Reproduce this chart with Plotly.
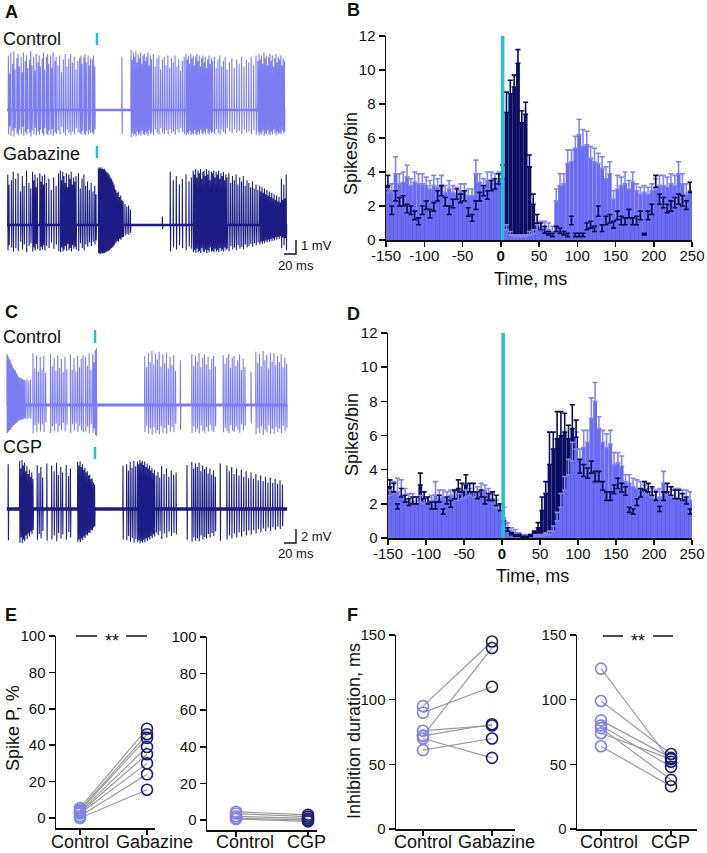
import numpy as np
import plotly.graph_objects as go

W, H = 707, 853
FONT = "Liberation Sans, Arial, sans-serif"

LIGHT = "#7b7df0"
DARK = "#1c1c84"
LIGHT_BAR = "#6b6cf4"
LIGHT_ERR = "#8386ee"
DARK_BAR = "#0c0c62"
DARK_ERR = "#0a0a55"
CYAN = "#27bddd"
GRAY = "#9a9a9a"

# ---------------- electrophysiology traces: (spike time ms, spike height mV) ----------------
CTRL_A_SPIKES = [
    (-147, 3.9), (-145, 2.6), (-143, 4.1), (-140, 3.3), (-138, 4.2), (-136, 2.9), (-133, 3.7), (-131, 4.0), (-129, 3.1), (-126, 3.8),
    (-124, 2.7), (-122, 4.1), (-119, 3.5), (-117, 3.9), (-115, 3.0), (-112, 3.6), (-110, 4.2), (-108, 3.2), (-105, 3.8), (-103, 2.8),
    (-101, 4.0), (-98, 3.4), (-96, 3.9), (-94, 3.1), (-91, 3.7), (-89, 4.1), (-87, 2.9), (-84, 3.8), (-82, 4.0), (-80, 3.3),
    (-77, 3.9), (-75, 3.0), (-73, 4.1), (-70, 3.5), (-68, 3.8), (-65, 3.2), (-62, 3.9), (-59, 2.7), (-56, 3.6), (-53, 4.0),
    (-50, 3.1), (-47, 3.7), (-44, 4.0), (-41, 3.4), (-38, 3.8), (-35, 2.9), (-32, 3.5), (-29, 3.7), (-27, 3.9), (-25, 3.3),
    (-22, 3.8), (-20, 4.0), (-18, 3.4), (-15, 3.9), (-13, 3.2), (-11, 3.7), (-8, 3.6), (-6, 3.9), (-4, 3.1),
    (41, 3.8),
    (56, 4.3), (58, 3.6), (60, 4.1), (62, 3.8), (64, 4.2), (66, 3.4), (68, 4.0), (70, 3.7), (72, 4.1), (74, 3.3),
    (76, 3.9), (78, 4.0), (80, 3.5), (82, 3.8), (84, 4.1), (86, 3.2), (88, 3.9), (90, 3.6), (93, 4.0), (96, 3.1),
    (99, 3.7), (102, 3.9), (105, 2.9), (108, 3.6), (111, 3.8), (114, 3.2), (117, 3.9), (120, 3.0), (123, 3.7), (126, 3.4),
    (129, 3.9), (132, 3.1), (135, 3.6), (138, 2.8), (141, 3.5), (144, 3.8), (147, 4.0), (149, 3.6), (151, 3.9), (153, 3.3),
    (155, 4.0), (157, 3.7), (159, 3.9), (161, 3.2), (163, 3.8), (165, 4.0), (167, 3.5), (169, 3.9), (171, 3.1), (173, 3.7),
    (175, 3.9), (177, 3.4), (179, 3.8), (181, 3.0), (183, 3.6), (185, 3.9), (187, 3.3), (189, 3.7), (191, 3.5), (194, 3.8),
    (197, 3.0), (200, 3.6), (203, 3.9), (206, 3.1), (209, 3.5), (212, 3.8), (215, 2.9), (219, 3.4), (223, 3.7), (227, 3.0),
    (231, 3.6), (235, 3.3), (239, 3.8), (243, 3.1), (247, 3.6), (251, 3.4), (255, 3.8), (259, 3.2), (263, 3.9), (266, 3.5),
    (268, 4.0), (270, 3.6), (272, 3.9), (274, 3.3), (276, 4.1), (278, 3.7), (280, 3.9), (282, 3.2), (284, 3.8), (286, 4.0),
    (288, 3.5), (290, 3.9), (292, 3.1), (294, 3.7), (296, 4.0), (298, 3.4), (300, 3.8), (302, 3.6), (304, 3.9), (306, 3.2),
    (308, 3.7), (310, 3.5),
]
GABA_A_SPIKES = [
    (-148, 3.6), (-146, 2.9), (-142, 3.2), (-139, 3.8), (-135, 3.3), (-131, 3.7), (-127, 2.4), (-124, 3.5), (-121, 2.8), (-117, 3.9),
    (-113, 3.0), (-110, 2.6), (-107, 3.8), (-105, 3.2), (-103, 3.6), (-101, 2.7), (-99, 3.4), (-95, 3.7), (-93, 3.1), (-91, 3.5),
    (-89, 2.9), (-87, 3.6), (-84, 3.0), (-80, 3.3), (-76, 2.5), (-72, 3.4), (-68, 2.8), (-64, 3.7), (-61, 3.9), (-59, 3.2),
    (-57, 3.8), (-55, 3.5), (-53, 3.0), (-51, 3.7), (-49, 2.7), (-47, 3.6), (-45, 3.3), (-43, 3.8), (-41, 2.9), (-39, 3.4),
    (-37, 3.1), (-35, 3.5), (-31, 3.7), (-28, 2.6), (-25, 3.3), (-22, 3.6), (-19, 2.8), (-16, 3.1), (-13, 2.5), (-10, 3.0),
    (-7, 2.4), (-4, 2.8), (-2, 2.2),
    (2, 4.0), (3, 4.1), (4, 3.9), (5, 4.1), (6, 4.0), (7, 3.9), (8, 4.1), (9, 3.8), (10, 4.0), (11, 3.9),
    (12, 4.0), (13, 3.8), (14, 3.9), (15, 3.7), (16, 3.8), (17, 3.6), (18, 3.7), (19, 3.5), (20, 3.6), (21, 3.3),
    (22, 3.4), (23, 3.2), (24, 3.3), (25, 3.0), (26, 3.1), (27, 2.8), (28, 2.9), (29, 2.6),
    (31, 2.5), (33, 2.3), (35, 2.4), (37, 2.0), (39, 2.1), (41, 1.8), (43, 1.7), (46, 1.5), (49, 1.3), (52, 1.4), (55, 1.1),
    (108, 0.6),
    (121, 3.8), (126, 3.2), (131, 3.5), (136, 2.9), (141, 3.3), (147, 3.6), (152, 3.1), (156, 3.4), (159, 3.9), (161, 3.6),
    (163, 4.0), (165, 3.4), (167, 3.9), (169, 3.7), (171, 4.0), (173, 3.3), (175, 3.8), (177, 3.9), (179, 3.5), (181, 4.0),
    (183, 3.6), (185, 3.9), (187, 3.2), (189, 3.8), (191, 3.7), (193, 3.9), (195, 3.4), (197, 3.8), (199, 3.6), (201, 3.9),
    (203, 3.3), (205, 3.7), (207, 3.5), (209, 3.8), (211, 3.2), (213, 3.6), (215, 3.4), (218, 3.7), (221, 3.0), (224, 3.5),
    (227, 3.2), (230, 3.6), (233, 2.9), (236, 3.4), (239, 3.1), (242, 3.5), (245, 2.8), (248, 3.2), (251, 3.0), (254, 2.7),
    (257, 3.1), (260, 2.6), (263, 2.9), (266, 2.5), (269, 2.8), (271, 2.4), (273, 2.7), (275, 2.3), (277, 2.6), (279, 2.2),
    (281, 2.5), (283, 2.1), (285, 2.4), (287, 2.0), (289, 2.3), (291, 1.9), (293, 2.2), (295, 1.8), (297, 2.1), (299, 1.7),
    (301, 2.0), (303, 1.6), (305, 3.3), (307, 1.8), (309, 2.9), (311, 1.9), (313, 3.6),
]
CTRL_C_SPIKES = [
    (-146, 7.3), (-145, 7.0), (-144, 6.9), (-143, 6.6), (-142, 6.4), (-141, 6.5), (-140, 6.1), (-139, 5.9), (-138, 5.8), (-137, 5.5),
    (-136, 5.3), (-135, 5.2), (-134, 5.0), (-133, 4.8), (-132, 4.9), (-131, 4.6), (-130, 4.5), (-129, 4.3), (-128, 4.2), (-126, 4.0),
    (-124, 3.9), (-122, 3.7), (-120, 3.8), (-118, 3.6), (-116, 3.5), (-113, 3.7), (-110, 3.4), (-107, 3.6),
    (-103, 7.4), (-100, 5.2), (-97, 7.1), (-94, 4.8), (-91, 6.9), (-88, 5.0), (-85, 7.0), (-82, 4.6),
    (-74, 7.3), (-71, 5.5), (-68, 6.8), (-65, 4.9), (-62, 7.1), (-59, 5.3), (-56, 6.6), (-53, 4.7), (-50, 6.9), (-47, 5.1),
    (-41, 7.2), (-38, 5.0), (-35, 6.7), (-32, 4.8), (-29, 7.0), (-26, 5.4), (-23, 6.6), (-20, 7.1),
    (-16, 6.9), (-13, 5.6), (-10, 7.4), (-7, 5.0), (-4, 7.2), (-2, 6.1), (0, 7.8), (2, 8.1),
    (82, 7.0), (85, 5.4), (88, 7.4), (91, 6.1), (94, 7.7), (97, 5.8), (100, 7.3), (103, 6.5), (106, 7.6), (109, 5.5),
    (112, 7.2), (115, 6.0), (118, 7.5), (121, 5.2), (124, 6.9), (127, 5.7), (130, 7.1), (133, 4.9),
    (141, 6.4),
    (160, 7.3), (163, 5.6), (166, 7.0), (169, 6.2), (172, 7.4), (175, 5.4), (178, 6.8), (181, 7.2), (184, 5.8), (187, 6.9),
    (190, 5.1), (193, 6.6), (196, 7.0), (199, 5.5),
    (212, 7.1), (215, 5.9), (218, 6.8), (221, 7.3), (224, 5.3), (227, 6.7), (230, 7.0), (233, 5.6), (236, 6.4), (239, 7.2),
    (242, 5.0), (245, 6.6), (248, 5.4),
    (258, 4.8),
    (266, 7.6), (269, 6.0), (272, 7.3), (275, 5.5), (278, 7.7), (281, 6.4), (284, 7.1), (287, 5.2), (290, 7.5), (293, 6.2),
    (296, 7.4), (299, 5.7), (302, 7.0), (305, 6.1), (308, 7.3), (311, 5.4), (314, 6.8), (317, 5.9),
]
CGP_C_SPIKES = [
    (-144, 6.4),
    (-125, 6.9), (-123, 5.8), (-121, 7.0), (-119, 6.2), (-117, 6.6), (-115, 5.4), (-113, 6.1), (-111, 5.0), (-109, 5.6), (-107, 4.6),
    (-105, 5.2), (-103, 4.3),
    (-96, 6.3), (-93, 5.1), (-90, 6.0), (-87, 4.5),
    (-80, 6.5), (-72, 6.2), (-68, 5.4), (-64, 6.6), (-61, 4.9), (-57, 6.0), (-54, 5.2), (-48, 6.3), (-44, 4.7), (-41, 5.8),
    (-29, 6.7), (-27, 6.2), (-25, 6.8), (-23, 6.0), (-21, 6.4), (-19, 5.6), (-17, 5.9), (-15, 5.2), (-13, 5.4), (-11, 4.8),
    (-9, 4.9), (-7, 4.3), (-5, 4.4), (-3, 3.8), (-1, 3.5),
    (46, 6.2),
    (52, 6.4), (55, 5.5), (58, 6.7), (61, 5.9), (64, 6.9), (67, 6.1), (70, 6.8), (72, 6.4), (74, 7.0), (76, 6.6),
    (78, 6.9), (80, 6.3), (82, 6.8), (84, 6.0), (86, 6.5), (88, 5.8), (90, 6.2), (92, 5.5), (94, 5.9), (96, 5.1),
    (98, 5.6), (101, 4.8), (104, 5.3), (107, 4.5),
    (110, 6.1), (114, 5.0), (118, 5.8), (122, 4.6), (126, 5.5), (130, 4.9), (134, 5.2),
    (152, 6.3),
    (160, 6.7), (163, 5.8), (166, 6.5), (169, 6.0), (172, 6.6), (175, 5.4), (178, 6.2), (181, 5.7), (184, 6.0), (187, 5.1),
    (190, 5.8), (193, 4.9), (196, 5.5), (199, 4.6),
    (207, 6.5),
    (218, 6.2), (222, 5.4), (226, 6.0), (230, 5.0), (234, 5.8), (238, 4.8), (242, 5.6), (246, 4.6), (250, 5.4), (254, 4.4),
    (258, 5.2), (262, 4.3), (266, 5.0), (270, 4.1), (274, 4.8), (278, 4.0), (282, 4.6), (286, 3.8), (290, 4.5), (294, 3.7),
    (298, 4.3), (302, 3.6), (306, 4.1), (310, 3.5),
]

# ---------------- PSTH data: 5 ms bins from -150 to 250 ms ----------------
BIN_LEFT = list(range(-150, 250, 5))
X_TICKS = [-150, -100, -50, 0, 50, 100, 150, 200, 250]
X_TICKTEXT = ["-150", "-100", "-50", "<b>0</b>", "50", "100", "150", "200", "250"]
Y_TICKS_PSTH = [0, 2, 4, 6, 8, 10, 12]

B_CTRL_MEAN = ([2.8, 2.9, 3.9, 3.3, 3.4, 3.7, 3.2, 3.4, 3.3, 3.3, 3.2, 3.0, 3.2, 3.1, 3.2, 2.8, 3.0, 2.8, 2.7, 2.9,
                2.9, 2.6, 2.6, 3.9, 3.4, 3.1, 3.5, 3.5, 3.4, 3.5]
               + [3.8, 0.6, 0.3, 0.2, 0.2, 0.2, 0.2, 0.3, 0.4, 0.6, 0.8, 0.7, 0.6, 0.5]
               + [2.3, 3.2, 3.3, 4.5, 4.6, 5.4, 6.2, 5.5, 5.6, 4.8, 4.6, 4.5, 4.2, 3.6, 3.9, 2.4, 3.0, 3.2, 3.3, 3.0,
                  3.4, 2.9, 2.7, 2.8, 2.7, 2.9, 3.0, 3.2, 3.2, 3.1, 3.3, 3.2, 3.9, 3.3, 2.7, 2.9])
B_CTRL_ERR = ([0.2, 0.4, 1.0, 0.6, 0.6, 0.7, 0.4, 0.6, 0.6, 0.6, 0.5, 0.5, 0.6, 0.5, 0.6, 0.4, 0.5, 0.4, 0.4, 0.4,
               0.4, 0.4, 0.4, 0.8, 0.5, 0.5, 0.5, 0.5, 0.5, 0.5]
              + [0.6, 0.3, 0.2, 0.1, 0.1, 0.1, 0.1, 0.2, 0.2, 0.3, 0.3, 0.4, 0.4, 0.3]
              + [0.7, 0.7, 0.6, 0.8, 0.7, 0.7, 0.9, 1.0, 0.8, 0.7, 0.8, 0.6, 0.7, 0.7, 0.7, 0.5, 0.8, 0.5, 0.7, 0.5,
                 0.6, 0.4, 0.4, 0.4, 0.4, 0.4, 0.6, 0.6, 0.6, 0.6, 0.6, 0.6, 0.7, 0.6, 0.6, 0.5])
B_GABA_MEAN = ([3.2, 1.5, 2.3, 2.0, 2.0, 1.6, 1.5, 1.2, 0.9, 1.5, 1.8, 1.3, 1.7, 2.3, 2.6, 2.0, 1.5, 1.9, 2.4, 2.2,
                2.3, 1.4, 1.1, 1.8, 2.3, 2.6, 2.4, 2.9, 3.0, 3.3]
               + [3.6, 7.5, 8.6, 9.0, 10.4, 6.9, 7.4, 4.3, 2.1, 1.0, 0.6, 0.4, 0.3, 0.2]
               + [0.5, 0.4, 0.3, 0.2, 0.9, 0.2, 0.2, 0.2, 0.6, 0.7, 0.5, 1.4, 0.5, 0.9, 1.0, 0.7, 1.2, 0.9, 0.9, 1.3,
                  0.9, 0.9, 1.2, 0.3, 1.2, 1.5, 3.1, 2.1, 1.9, 1.6, 1.7, 1.9, 2.1, 2.0, 1.8, 2.8])
B_GABA_ERR = ([0.6, 0.5, 0.6, 0.5, 0.6, 0.5, 0.5, 0.5, 0.4, 0.5, 0.5, 0.5, 0.5, 0.6, 0.6, 0.5, 0.5, 0.5, 0.6, 0.5,
               0.6, 0.5, 0.4, 0.5, 0.5, 0.6, 0.5, 0.6, 0.6, 0.6]
              + [0.8, 1.2, 0.8, 0.7, 0.8, 0.7, 0.7, 0.7, 0.6, 0.5, 0.4, 0.4, 0.2, 0.2]
              + [0.3, 0.3, 0.2, 0.2, 0.5, 0.2, 0.2, 0.2, 0.4, 0.4, 0.3, 0.6, 0.4, 0.5, 0.5, 0.4, 0.5, 0.5, 0.4, 0.5,
                 0.4, 0.5, 0.5, 0.1, 0.5, 0.6, 0.7, 0.6, 0.6, 0.5, 0.6, 0.6, 0.6, 0.6, 0.5, 0.6])
D_CTRL_MEAN = ([2.5, 2.6, 2.7, 2.5, 2.3, 2.2, 2.1, 2.0, 2.1, 2.0, 2.1, 2.2, 2.5, 2.3, 2.4, 2.3, 2.5, 2.4, 2.2, 2.3,
                2.4, 2.5, 2.4, 2.6, 2.7, 2.8, 2.5, 2.3, 1.8, 1.6]
               + [1.2, 0.6, 0.4, 0.3, 0.2, 0.1, 0.1, 0.1, 0.1, 0.1, 0.1, 0.2, 0.2, 0.4]
               + [1.0, 1.8, 2.8, 3.7, 4.5, 5.2, 4.6, 5.3, 5.6, 7.0, 8.0, 6.4, 5.6, 5.3, 5.5, 4.3, 4.4, 4.2, 3.3, 3.2,
                  3.0, 2.9, 2.8, 2.6, 2.5, 2.4, 2.3, 2.4, 3.2, 2.5, 2.4, 2.4, 2.3, 2.2, 2.3, 2.2])
D_CTRL_ERR = ([0.3, 0.7, 0.8, 0.9, 0.6, 0.4, 0.5, 0.4, 0.4, 0.4, 0.3, 0.3, 0.8, 0.5, 0.4, 0.4, 0.3, 0.3, 0.4, 0.5,
               0.4, 0.4, 0.3, 0.4, 0.5, 0.3, 0.4, 0.3, 0.4, 0.4]
              + [0.6, 0.3, 0.2, 0.2, 0.1, 0.1, 0.1, 0.1, 0.1, 0.1, 0.1, 0.1, 0.2, 0.3]
              + [0.5, 0.8, 0.8, 0.9, 1.1, 1.0, 0.6, 1.0, 0.7, 1.2, 1.1, 0.7, 0.7, 0.8, 0.8, 0.7, 0.6, 0.6, 0.4, 0.5,
                 0.5, 0.5, 0.5, 0.5, 0.4, 0.5, 0.5, 0.5, 0.7, 0.5, 0.6, 0.5, 0.6, 0.6, 0.5, 0.5])
D_CGP_MEAN = ([3.0, 2.7, 1.7, 2.4, 2.1, 1.9, 2.0, 2.0, 3.1, 2.3, 2.0, 1.7, 1.7, 2.1, 1.4, 2.0, 1.8, 2.3, 2.9, 2.7,
               3.1, 2.7, 2.7, 2.3, 2.4, 2.0, 2.2, 2.2, 1.9, 1.6]
              + [0.8, 0.4, 0.2, 0.1, 0.1, 0.05, 0.05, 0.1, 0.3, 0.6, 1.6, 2.6, 4.3, 5.2]
              + [5.8, 6.0, 6.2, 5.8, 6.4, 5.9, 3.8, 3.6, 3.5, 3.8, 3.3, 3.3, 2.8, 2.2, 2.2, 2.6, 2.9, 2.7, 2.5, 1.5,
                 1.4, 1.9, 2.4, 2.8, 2.7, 2.5, 2.2, 1.55, 2.2, 2.7, 2.5, 2.3, 2.3, 2.2, 2.0, 1.4])
D_CGP_ERR = ([0.4, 0.5, 0.3, 0.5, 0.4, 0.4, 0.4, 0.4, 0.7, 0.4, 0.4, 0.4, 0.4, 0.4, 0.3, 0.4, 0.4, 0.5, 0.5, 0.5,
              0.6, 0.5, 0.5, 0.4, 0.4, 0.4, 0.4, 0.5, 0.6, 0.4]
             + [0.2, 0.2, 0.1, 0.1, 0.1, 0.05, 0.05, 0.1, 0.1, 0.3, 0.8, 0.7, 1.9, 1.0]
             + [1.6, 1.4, 1.1, 0.8, 1.4, 1.0, 0.8, 0.7, 0.6, 0.7, 0.6, 0.6, 0.5, 0.5, 0.5, 0.5, 0.6, 0.5, 0.5, 0.3,
                0.3, 0.4, 0.5, 0.5, 0.5, 0.5, 0.5, 0.3, 0.5, 0.5, 0.5, 0.5, 0.5, 0.4, 0.4, 0.3])

for arr in (B_CTRL_MEAN, B_CTRL_ERR, B_GABA_MEAN, B_GABA_ERR, D_CTRL_MEAN, D_CTRL_ERR, D_CGP_MEAN, D_CGP_ERR):
    assert len(arr) == len(BIN_LEFT), len(arr)

# ---------------- paired data ----------------
E_GABA_CTRL = [5.5, 4.5, 4.0, 3.5, 3.0, 2.5, 1.0, 0.0]
E_GABA = [49, 46, 44, 39, 35, 30, 24, 15.5]
E_CGP_CTRL = [4.5, 3.5, 2.0, 1.0, 0.5]
E_CGP = [2.8, 1.8, 0.8, 0.0, -0.8]
F_GABA_CTRL = [95, 90, 72, 76, 72, 61, 70]
F_GABA = [145, 110, 140, 80, 81, 70, 55]
F_CGP_CTRL = [124, 99, 84, 80, 78, 74, 64]
F_CGP = [52, 58, 55, 48, 38, 54, 33]


def fx(px):
    return px / W


def fy(py):
    return 1 - py / H


fig = go.Figure()
annotations = []
shapes = []


def ann(text, px, py, size=18, bold=False, xanchor="center", yanchor="middle", angle=0):
    annotations.append(dict(
        text=("<b>%s</b>" % text) if bold else text, x=fx(px), y=fy(py), xref="paper", yref="paper",
        xanchor=xanchor, yanchor=yanchor, showarrow=False, textangle=angle,
        font=dict(family=FONT, size=size, color="#111")))


# ---------------- trace panels (A, C) ----------------
PX_PER_MS = 0.604


def ephys(spikes, base, down, t0, t1, color, ax, base_w):
    xs, ys = [t0], [base]
    for t, up in spikes:
        xs += [t, t + 0.3, t + 0.7, t + 1.1]
        ys += [base, base + up, base - up * down, base]
    xs.append(t1)
    ys.append(base)
    xa, ya = ax
    fig.add_trace(go.Scatter(x=[t0, t1], y=[base, base], mode="lines",
                             line=dict(color=color, width=base_w), xaxis=xa, yaxis=ya, hoverinfo="skip"))
    fig.add_trace(go.Scatter(x=xs, y=ys, mode="lines", line=dict(color=color, width=1.1, simplify=False),
                             xaxis=xa, yaxis=ya, hoverinfo="skip"))


def vline(ax, x, y0, y1, color, width):
    fig.add_trace(go.Scatter(x=[x, x], y=[y0, y1], mode="lines", line=dict(color=color, width=width),
                             xaxis=ax[0], yaxis=ax[1], hoverinfo="skip"))


# Panel A geometry: t=0 at px 97, 14 px per mV, axis spans px y 30..262
A_ZERO, A_MV, A_TOP, A_BOT = 97, 14.0, 30, 262
a_base_ctrl = (A_BOT - 110) / A_MV
a_base_gaba = (A_BOT - 225) / A_MV
ephys(CTRL_A_SPIKES, a_base_ctrl, 0.45, -149, 311, LIGHT, ("x", "y"), 2.6)
ephys(GABA_A_SPIKES, a_base_gaba, 0.5, -149, 311, DARK, ("x", "y"), 2.4)
vline(("x", "y"), 0, (A_BOT - 45) / A_MV, (A_BOT - 33) / A_MV, CYAN, 2.5)
vline(("x", "y"), 0, (A_BOT - 158) / A_MV, (A_BOT - 146) / A_MV, CYAN, 2.5)
sb_t = (296 - A_ZERO) / PX_PER_MS
sb_y = (A_BOT - 254) / A_MV
fig.add_trace(go.Scatter(x=[sb_t - 20, sb_t, sb_t], y=[sb_y, sb_y, sb_y + 1], mode="lines",
                         line=dict(color="#111", width=1.4), xaxis="x", yaxis="y", hoverinfo="skip"))

# Panel C geometry: t=0 at px 95, 7 px per mV, axis spans px y 325..558
C_ZERO, C_MV, C_TOP, C_BOT = 95, 7.0, 325, 558
c_base_ctrl = (C_BOT - 405) / C_MV
c_base_cgp = (C_BOT - 509) / C_MV
ephys(CTRL_C_SPIKES, c_base_ctrl, 0.55, -146, 318, LIGHT, ("x3", "y3"), 3.0)
ephys(CGP_C_SPIKES, c_base_cgp, 0.7, -146, 318, DARK, ("x3", "y3"), 3.6)
vline(("x3", "y3"), 0, (C_BOT - 343) / C_MV, (C_BOT - 330) / C_MV, CYAN, 2.5)
vline(("x3", "y3"), 0, (C_BOT - 459) / C_MV, (C_BOT - 447) / C_MV, CYAN, 2.5)
sb_tc = (296 - C_ZERO) / PX_PER_MS
sb_yc = (C_BOT - 543) / C_MV
fig.add_trace(go.Scatter(x=[sb_tc - 20, sb_tc, sb_tc], y=[sb_yc, sb_yc, sb_yc + 2], mode="lines",
                         line=dict(color="#111", width=1.4), xaxis="x3", yaxis="y3", hoverinfo="skip"))

# ---------------- PSTH panels (B, D) ----------------
centers = [b + 2.5 for b in BIN_LEFT]
zeros = [0] * len(BIN_LEFT)


def psth(ctrl_m, ctrl_e, drug_m, drug_e, xa, ya, stim_x):
    fig.add_trace(go.Bar(x=centers, y=drug_m, width=5, marker=dict(color=DARK_BAR, line=dict(width=0)),
                         xaxis=xa, yaxis=ya, hoverinfo="skip"))
    fig.add_trace(go.Bar(x=centers, y=ctrl_m, width=5, marker=dict(color=LIGHT_BAR, line=dict(width=0)),
                         error_y=dict(type="data", array=ctrl_e, arrayminus=zeros, symmetric=False,
                                      color=LIGHT_ERR, thickness=1.6, width=2.5),
                         xaxis=xa, yaxis=ya, hoverinfo="skip"))
    fig.add_trace(go.Bar(x=centers, y=drug_m, width=5, marker=dict(color="rgba(0,0,0,0)", line=dict(width=0)),
                         error_y=dict(type="data", array=drug_e, arrayminus=zeros, symmetric=False,
                                      color=DARK_ERR, thickness=1.6, width=2.5),
                         xaxis=xa, yaxis=ya, hoverinfo="skip"))
    shapes.append(dict(type="line", xref=xa, yref=ya, x0=stim_x, x1=stim_x, y0=0, y1=12,
                       line=dict(color=CYAN, width=3.5), layer="above"))


psth(B_CTRL_MEAN, B_CTRL_ERR, B_GABA_MEAN, B_GABA_ERR, "x2", "y2", 2.5)
psth(D_CTRL_MEAN, D_CTRL_ERR, D_CGP_MEAN, D_CGP_ERR, "x4", "y4", 1.5)

# ---------------- paired plots (E, F) ----------------


def paired(ctrl, drug, xa, ya):
    for c, d in zip(ctrl, drug):
        fig.add_trace(go.Scatter(x=[0, 1], y=[c, d], mode="lines", line=dict(color=GRAY, width=1.2),
                                 xaxis=xa, yaxis=ya, hoverinfo="skip"))
    fig.add_trace(go.Scatter(x=[0] * len(ctrl), y=ctrl, mode="markers", cliponaxis=False,
                             marker=dict(symbol="circle-open", size=11, color="#7f80e8", line=dict(width=1.6)),
                             xaxis=xa, yaxis=ya, hoverinfo="skip"))
    fig.add_trace(go.Scatter(x=[1] * len(drug), y=drug, mode="markers", cliponaxis=False,
                             marker=dict(symbol="circle-open", size=11, color="#1c1c70", line=dict(width=1.6)),
                             xaxis=xa, yaxis=ya, hoverinfo="skip"))


paired(E_GABA_CTRL, E_GABA, "x5", "y5")
paired(E_CGP_CTRL, E_CGP, "x6", "y6")
paired(F_GABA_CTRL, F_GABA, "x7", "y7")
paired(F_CGP_CTRL, F_CGP, "x8", "y8")

# ---------------- axes ----------------
tickfont = dict(family=FONT, size=15, color="#111")
axline = dict(showline=True, linecolor="#111", linewidth=1.5, ticks="outside", ticklen=6, tickwidth=1.5,
              tickcolor="#111", showgrid=False, zeroline=False, tickfont=tickfont, fixedrange=True,
              automargin=False, tickangle=0)


def hidden(domain, rng, anchor):
    return dict(domain=domain, range=rng, visible=False, anchor=anchor, fixedrange=True, automargin=False)


layout = dict(
    template="none",
    width=W, height=H, autosize=False, margin=dict(l=0, r=0, t=0, b=0, pad=0, autoexpand=False),
    paper_bgcolor="white", plot_bgcolor="rgba(0,0,0,0)",
    showlegend=False, barmode="overlay", font=dict(family=FONT, color="#111"),
    xaxis=hidden([0, fx(330)], [(0 - A_ZERO) / PX_PER_MS, (330 - A_ZERO) / PX_PER_MS], "y"),
    yaxis=hidden([fy(A_BOT), fy(A_TOP)], [0, (A_BOT - A_TOP) / A_MV], "x"),
    xaxis3=hidden([0, fx(330)], [(0 - C_ZERO) / PX_PER_MS, (330 - C_ZERO) / PX_PER_MS], "y3"),
    yaxis3=hidden([fy(C_BOT), fy(C_TOP)], [0, (C_BOT - C_TOP) / C_MV], "x3"),
)
layout["xaxis2"] = dict(axline, domain=[fx(386), fx(692)], range=[-150, 250], tickvals=X_TICKS,
                        ticktext=X_TICKTEXT, anchor="y2", ticklen=5, ticklabelstandoff=-4)
layout["yaxis2"] = dict(axline, domain=[fy(240), fy(36)], range=[0, 12], tickvals=Y_TICKS_PSTH, anchor="x2")
layout["xaxis4"] = dict(axline, domain=[fx(388), fx(692)], range=[-150, 250], tickvals=X_TICKS,
                        ticktext=X_TICKTEXT, anchor="y4", ticklen=5, ticklabelstandoff=-4)
layout["yaxis4"] = dict(axline, domain=[fy(538), fy(333)], range=[0, 12], tickvals=Y_TICKS_PSTH, anchor="x4")


def cat_x(domain, rng, anchor):
    return dict(axline, domain=domain, range=rng, tickvals=[0, 1], anchor=anchor, ticklen=5,
                showticklabels=False)


layout["xaxis5"] = cat_x([fx(56), fx(155)], [-0.358, 1.119], "y5")
layout["yaxis5"] = dict(axline, domain=[fy(828), fy(636)], range=[-5.5, 100], tickvals=[0, 20, 40, 60, 80, 100],
                        anchor="x5")
layout["xaxis6"] = cat_x([fx(207), fx(317)], [-0.403, 1.125], "y6")
layout["yaxis6"] = dict(axline, domain=[fy(830), fy(637)], range=[-5.5, 100], tickvals=[0, 20, 40, 60, 80, 100],
                        anchor="x6")
layout["xaxis7"] = cat_x([fx(396), fx(515)], [-0.391, 1.333], "y7")
layout["yaxis7"] = dict(axline, domain=[fy(829), fy(635)], range=[0, 150], tickvals=[0, 50, 100, 150], anchor="x7")
layout["xaxis8"] = cat_x([fx(577), fx(697)], [-0.343, 1.371], "y8")
layout["yaxis8"] = dict(axline, domain=[fy(829), fy(635)], range=[0, 150], tickvals=[0, 50, 100, 150], anchor="x8")

# ---------------- text ----------------
ann("A", 3, 12, bold=True, xanchor="left")
ann("B", 345, 10, bold=True, xanchor="left")
ann("C", 3, 312, bold=True, xanchor="left")
ann("D", 345, 314, bold=True, xanchor="left")
ann("E", 3, 615, bold=True, xanchor="left")
ann("F", 345, 615, bold=True, xanchor="left")

ann("Control", 1, 39, xanchor="left")
ann("Gabazine", 1, 154, xanchor="left")
ann("Control", 1, 337, xanchor="left")
ann("CGP", 1, 447, xanchor="left")

ann("1 mV", 299, 246, size=13, xanchor="left")
ann("20 ms", 296, 265, size=13)
ann("2 mV", 299, 536, size=13, xanchor="left")
ann("20 ms", 296, 553, size=13)

ann("Spikes/bin", 351, 154, angle=-90)
ann("Spikes/bin", 352, 435, angle=-90)
ann("Time, ms", 530, 279)
ann("Time, ms", 532, 576)
ann("Spike P, %", 13, 728, angle=-90)
ann("Inhibition duration, ms", 354, 731, angle=-90)

# condition labels under the paired plots
CAT_LABELS = [("Control", 80), ("Gabazine", 154), ("Control", 245), ("CGP", 306),
              ("Control", 423), ("Gabazine", 497), ("Control", 609), ("CGP", 670)]
for text, px in CAT_LABELS:
    ann(text, px, 842)

# significance bars
for (x0, x1, x2, x3, xs, yy) in [(76, 97, 126, 147, 112, 636), (603, 623, 653, 673, 638, 636)]:
    for a, b in [(x0, x1), (x2, x3)]:
        shapes.append(dict(type="line", xref="paper", yref="paper", x0=fx(a), x1=fx(b), y0=fy(yy), y1=fy(yy),
                           line=dict(color="#111", width=1.5)))
    ann("**", xs, yy + 5, size=18)

layout["annotations"] = annotations
layout["shapes"] = shapes
fig.update_layout(**layout)
fig.write_html(
    "out.html",
    config={"displayModeBar": False, "staticPlot": True},
    post_script="document.body.style.margin='0';document.body.style.padding='0';"
                "document.body.style.overflow='hidden';",
)
